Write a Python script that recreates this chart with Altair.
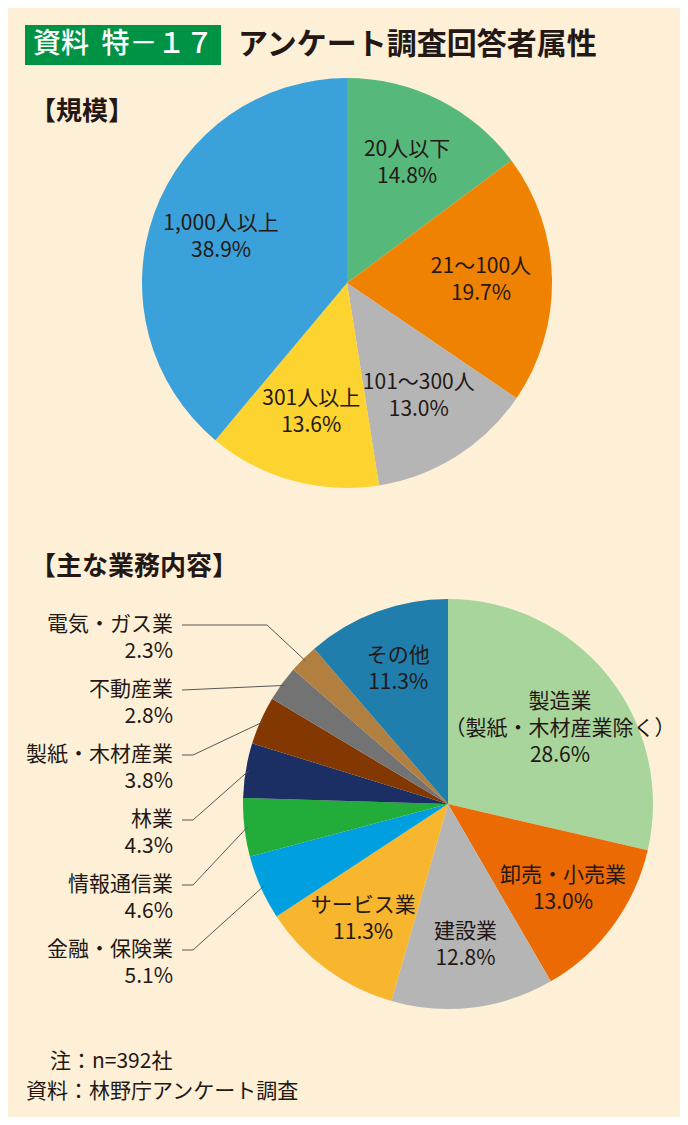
import math
import altair as alt
import pandas as pd

# ---------------- data ----------------
size_labels = ["20人以下", "21～100人", "101～300人", "301人以上", "1,000人以上"]
size_values = [14.8, 19.7, 13.0, 13.6, 38.9]

biz_labels = ["製造業", "卸売・小売業", "建設業", "サービス業", "金融・保険業", "情報通信業",
              "林業", "製紙・木材産業", "不動産業", "電気・ガス業", "その他"]
biz_values = [28.6, 13.0, 12.8, 11.3, 5.1, 4.6, 4.3, 3.8, 2.8, 2.3, 11.3]
biz_note = {"製造業": "（製紙・木材産業除く）"}
outer_labels = ["電気・ガス業", "不動産業", "製紙・木材産業", "林業", "情報通信業", "金融・保険業"]

title_tag = "資料\u00a0\u00a0特－１７"
title_text = "アンケート調査回答者属性"
sub1_text = "【規模】"
sub2_text = "【主な業務内容】"
note_text = "注：n=392社"
source_text = "資料：林野庁アンケート調査"

# ---------------- styles / layout ----------------
FONT = "Noto Sans CJK JP"
INK = "#231815"
BG = "#fdf0d6"
GREEN_TAG = "#009245"
LEADER = "#595757"
size_colors = ["#56b87b", "#ef8200", "#b5b5b6", "#fdd32f", "#3ba1da"]
biz_colors = ["#a8d59b", "#eb6a03", "#b5b5b6", "#f8b62f", "#00a0e0", "#22ac3a",
              "#1b2f64", "#823800", "#737373", "#b17f3f", "#1f7eac"]

W, H = 672, 1109
C1 = (339, 275)
C2 = (440, 796)
R = 205
FS = 21
LH = 27


def pct(v):
    return f"{v:.1f}%"


df1 = pd.DataFrame({
    "label": size_labels,
    "value": size_values,
    "idx": list(range(len(size_labels))),
    "text": [f"{l}\n{pct(v)}" for l, v in zip(size_labels, size_values)],
})

inner_text = []
for l, v in zip(biz_labels, biz_values):
    if l in outer_labels:
        inner_text.append("")
    elif l in biz_note:
        inner_text.append(f"{l}\n{biz_note[l]}\n{pct(v)}")
    else:
        inner_text.append(f"{l}\n{pct(v)}")
df2 = pd.DataFrame({
    "label": biz_labels,
    "value": biz_values,
    "idx": list(range(len(biz_labels))),
    "text": inner_text,
})


def pie(df, labels, colors, center, label_r):
    arc = alt.Chart(df).mark_arc(radius=R).encode(
        x=alt.value(center[0]), y=alt.value(center[1]),
        theta=alt.Theta("value:Q", stack=True),
        color=alt.Color("label:N", scale=alt.Scale(domain=labels, range=colors), legend=None),
        order=alt.Order("idx:Q"),
    )
    txt = alt.Chart(df).mark_text(
        radius=label_r, lineBreak="\n", font=FONT, fontSize=FS, lineHeight=LH,
        color=INK, align="center", baseline="middle", dy=-LH / 2,
    ).encode(
        x=alt.value(center[0]), y=alt.value(center[1]),
        theta=alt.Theta("value:Q", stack=True),
        detail="label:N",
        order=alt.Order("idx:Q"),
        text="text:N",
    )
    return [arc, txt]


# leader lines for small slices of pie 2 (end points from the slice mid-angles)
total2 = sum(biz_values)
bend_x = [259, None, 185, 185, 185, 185]
rows = []
for i, name in enumerate(outer_labels):
    j = biz_labels.index(name)
    mid = sum(biz_values[:j]) + biz_values[j] / 2
    a = mid / total2 * 2 * math.pi
    ex = C2[0] + 202 * math.sin(a)
    ey = C2[1] - 202 * math.cos(a)
    ly = 617 + 65 * i
    pts = [(174, ly)]
    if bend_x[i] is not None:
        pts.append((bend_x[i], ly))
    pts.append((ex, ey))
    for k, (px, py) in enumerate(pts):
        rows.append({"name": name, "k": k, "px": px, "py": py})
leader_df = pd.DataFrame(rows)

leaders = alt.Chart(leader_df).mark_line(color=LEADER, strokeWidth=1).encode(
    x=alt.X("px:Q", scale=None, axis=None),
    y=alt.Y("py:Q", scale=None, axis=None),
    detail="name:N",
    order="k:Q",
)

outer_df = pd.DataFrame({
    "name": outer_labels,
    "pct": [pct(biz_values[biz_labels.index(n)]) for n in outer_labels],
    "ty": [617 + 65 * i for i in range(len(outer_labels))],
})
outer_base = alt.Chart(outer_df).encode(
    x=alt.value(165),
    y=alt.Y("ty:Q", scale=None, axis=None),
)
outer_name = outer_base.mark_text(
    font=FONT, fontSize=FS, color=INK, align="right", baseline="middle"
).encode(text="name:N")
outer_pct = outer_base.mark_text(
    font=FONT, fontSize=FS, color=INK, align="right", baseline="middle", dy=26.7
).encode(text="pct:N")


def label(text, x, y, size, weight="normal", color=INK, align="left"):
    return alt.Chart(pd.DataFrame({"t": [text]})).mark_text(
        font=FONT, fontSize=size, fontWeight=weight, color=color,
        align=align, baseline="middle",
    ).encode(x=alt.value(x), y=alt.value(y), text="t:N")


tag_box = alt.Chart(pd.DataFrame({"t": [title_tag]})).mark_rect(color=GREEN_TAG).encode(
    x=alt.value(17), x2=alt.value(213), y=alt.value(17), y2=alt.value(57)
)

layers = [tag_box,
          label(title_tag, 25, 37, 28, 500, "#ffffff"),
          label(title_text, 230, 37, 30, "bold"),
          label(sub1_text, 22, 104, 26, "bold"),
          label(sub2_text, 22, 559, 26, "bold")]
layers += pie(df1, size_labels, size_colors, C1, 134)
layers += pie(df2, biz_labels, biz_colors, C2, 143)
layers += [leaders, outer_name, outer_pct,
           label(note_text, 42, 1054, FS),
           label(source_text, 18, 1084, FS)]

chart = alt.layer(*layers).resolve_scale(
    theta="independent", color="independent"
).properties(
    width=W, height=H, padding=0, autosize="none", background=BG
).configure_view(stroke=None)

chart.save("out.html", embed_options={"renderer": "svg", "actions": False})
